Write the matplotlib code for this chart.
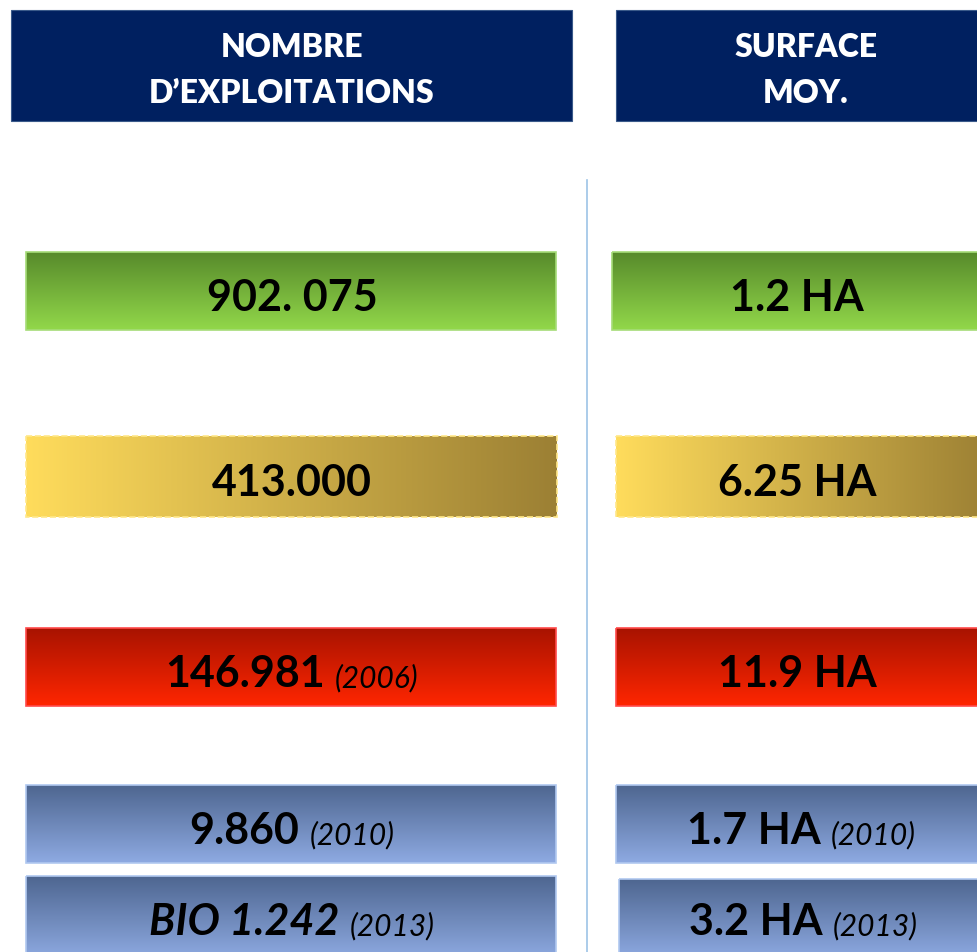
import numpy as np
import matplotlib
matplotlib.use("Agg")
import matplotlib.pyplot as plt
from matplotlib.patches import Rectangle

# ---- data ----
headers = ["NOMBRE\nD\u2019EXPLOITATIONS", "SURFACE\nMOY."]
left_values = ["902. 075", "413.000", "146.981", "9.860", "BIO 1.242"]
left_years = ["", "", "(2006)", "(2010)", "(2013)"]
left_italic = [False, False, False, False, True]
right_values = ["1.2 HA", "6.25 HA", "11.9 HA", "1.7 HA", "3.2 HA"]
right_years = ["", "", "", "(2010)", "(2013)"]
row_styles = ["green", "gold", "red", "blue", "blue"]

# ---- layout (pixels) ----
W, H = 978, 953
FONT = "Lato"
styles = {
    "green": dict(kind="v", c0="#578a2b", c1="#92d84a", edge="#a6dc78", ls="-"),
    "gold": dict(kind="h", c0="#ffdc5c", c1="#9c8034", edge="#ffe88a", ls="--"),
    "red": dict(kind="v", c0="#a81300", c1="#ff2600", edge="#ff4a4a", ls="-"),
    "blue": dict(kind="v", c0="#4e6690", c1="#8eaae2", edge="#b0c8f0", ls="-"),
}
left_boxes = [(26, 556, 253, 331), (26, 557, 437, 518), (26, 556, 629, 707),
              (26, 556, 786, 864), (26, 556, 877, 960)]
right_boxes = [(612, 990, 253, 331), (616, 990, 437, 518), (616, 990, 629, 707),
               (616, 990, 786, 864), (619, 990, 880, 960)]
left_cx = 292
right_cx = [797, 797, 797, 801, 803]

fig = plt.figure(figsize=(W / 100, H / 100), dpi=100)
ax = fig.add_axes([0, 0, 1, 1])
ax.set_xlim(0, W)
ax.set_ylim(H, 0)
ax.axis("off")


def hex2rgb(h):
    return np.array(matplotlib.colors.to_rgb(h))


def grad_box(x0, x1, y0, y1, st):
    c0, c1 = hex2rgb(st["c0"]), hex2rgb(st["c1"])
    t = np.linspace(0, 1, 256)
    if st["kind"] == "v":
        arr = (c0[None, :] * (1 - t[:, None]) + c1[None, :] * t[:, None])[:, None, :]
    else:
        arr = (c0[None, :] * (1 - t[:, None]) + c1[None, :] * t[:, None])[None, :, :]
    ax.imshow(arr, extent=(x0, x1, y1, y0), origin="upper", aspect="auto",
              interpolation="bilinear", zorder=1)
    ax.add_patch(Rectangle((x0, y0), x1 - x0, y1 - y0, fill=False,
                           edgecolor=st["edge"], lw=1.2, ls=st["ls"], zorder=2))


# headers
ax.add_patch(Rectangle((11, 11), 561, 111, facecolor="#002060", edgecolor="#3a5a8a", lw=0.8, zorder=1))
ax.add_patch(Rectangle((616, 11), 400, 111, facecolor="#002060", edgecolor="#3a5a8a", lw=0.8, zorder=1))
for txt, cx in zip(headers, [292, 806]):
    l1, l2 = txt.split("\n")
    ax.text(cx, 57, l1, color="white", fontsize=23, fontweight="heavy", family=FONT,
            ha="center", va="baseline", zorder=3)
    ax.text(cx, 103, l2, color="white", fontsize=23, fontweight="heavy", family=FONT,
            ha="center", va="baseline", zorder=3)

# divider
ax.plot([587, 587], [181, H], color="#9dc3e6", lw=1.2, zorder=1)

fig.canvas.draw()
renderer = fig.canvas.get_renderer()


def composite(cx, baseline, main, year, italic):
    t1 = ax.text(0, baseline, main, fontsize=31, fontweight="bold",
                 fontstyle="italic" if italic else "normal", family=FONT,
                 ha="left", va="baseline", zorder=3, color="black")
    parts = [t1]
    gap = 10
    if year:
        t2 = ax.text(0, baseline, year, fontsize=21.5, fontstyle="italic", family=FONT,
                     ha="left", va="baseline", zorder=3, color="black")
        parts.append(t2)
    widths = [p.get_window_extent(renderer).width for p in parts]
    total = sum(widths) + gap * (len(parts) - 1)
    x = cx - total / 2
    for p, w in zip(parts, widths):
        p.set_x(x)
        x += w + gap


for i, st in enumerate(row_styles):
    x0, x1, y0, y1 = left_boxes[i]
    grad_box(x0, x1, y0, y1, styles[st])
    base = (y0 + min(y1, 953)) / 2 + 19 if i < 4 else 935
    composite(left_cx, base, left_values[i], left_years[i], left_italic[i])
    x0, x1, y0, y1 = right_boxes[i]
    grad_box(x0, x1, y0, y1, styles[st])
    composite(right_cx[i], base, right_values[i], right_years[i], False)

fig.savefig("out.png", dpi=100)
